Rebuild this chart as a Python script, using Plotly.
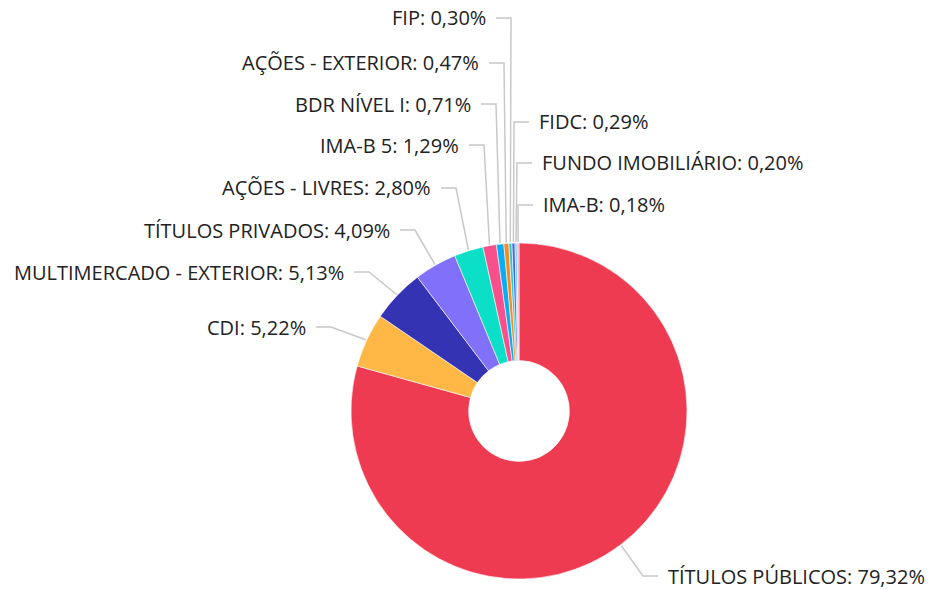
import math
import plotly.graph_objects as go

# ---- data ----
labels = ["TÍTULOS PÚBLICOS", "CDI", "MULTIMERCADO - EXTERIOR", "TÍTULOS PRIVADOS",
          "AÇÕES - LIVRES", "IMA-B 5", "BDR NÍVEL I", "AÇÕES - EXTERIOR", "FIP",
          "FIDC", "FUNDO IMOBILIÁRIO", "IMA-B"]
values = [79.32, 5.22, 5.13, 4.09, 2.80, 1.29, 0.71, 0.47, 0.30, 0.29, 0.20, 0.18]
colors = ["#EF3B51", "#FFB846", "#3333B3", "#8170F9", "#0BDFC7", "#F7508B",
          "#09ADF1", "#F88A1D", "#2EC6DA", "#4466E6", "#6CC8F0", "#F3A1B4"]

# ---- layout (pixels) ----
W, H = 929, 590
CX, CY, R = 519, 411, 168
label_side = ["right", "left", "left", "left", "left", "left", "left", "left", "left",
              "right", "right", "right"]
label_y = [576, 327, 272, 230, 188, 145, 104, 63, 18, 122, 163, 205]
label_x = [667, 307, 345, 391, 432, 460, 472, 480, 487, 538, 541, 542]
GAP, SEG = 9, 15


def px(x):
    return x / W


def py(y):
    return 1 - y / H


def fmt(v):
    return f"{v:.2f}".replace(".", ",") + "%"


fig = go.Figure(go.Pie(
    labels=labels, values=values, sort=False, direction="clockwise", rotation=0,
    hole=0.3, textinfo="none", hoverinfo="label+percent",
    marker=dict(colors=colors, line=dict(color="white", width=0.6)),
    domain=dict(x=[(CX - R) / W, (CX + R) / W], y=[1 - (CY + R) / H, 1 - (CY - R) / H]),
    showlegend=False,
))

total = sum(values)
cum = 0.0
annotations, shapes = [], []
for lab, v, side, ly, lx in zip(labels, values, label_side, label_y, label_x):
    mid = (cum + v / 2) / total
    cum += v
    th = 2 * math.pi * mid
    ex = CX + (R + 1) * math.sin(th)
    ey = CY - (R + 1) * math.cos(th)
    if side == "left":
        hx_end = lx + GAP
        bx = hx_end + SEG
        anchor = "right"
    else:
        hx_end = lx - GAP
        bx = hx_end - SEG
        anchor = "left"
    path = f"M {px(ex)} {py(ey)} L {px(bx)} {py(ly)} L {px(hx_end)} {py(ly)}"
    shapes.append(dict(type="path", path=path, xref="paper", yref="paper",
                       line=dict(color="#C8C8C8", width=1.5)))
    annotations.append(dict(text=f"{lab}: {fmt(v)}", x=px(lx), y=py(ly), xref="paper",
                            yref="paper", xanchor=anchor, yanchor="middle",
                            showarrow=False, borderpad=0,
                            font=dict(family="Open Sans", size=20, color="#222222")))

fig.update_layout(
    width=W, height=H, margin=dict(l=0, r=0, t=0, b=0),
    paper_bgcolor="white", plot_bgcolor="white",
    annotations=annotations, shapes=shapes,
)
fig.write_html("out.html", config={"displayModeBar": False},
               post_script="document.body.style.margin='0px';")
